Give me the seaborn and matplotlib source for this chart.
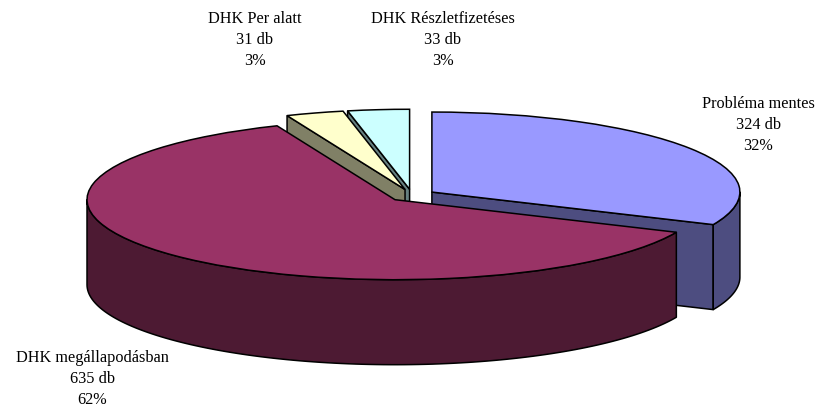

# 3D looking exploded pie, the depth walls are built from the slice angles
import numpy as np
import matplotlib
matplotlib.use('Agg')
import matplotlib.pyplot as plt
import seaborn as sns

names = ['Probléma mentes', 'DHK megállapodásban', 'DHK Per alatt', 'DHK Részletfizetéses']
counts = [324, 635, 31, 33]
slice_colors = ['#9999FF', '#993366', '#FFFFCC', '#CCFFFF']

sns.set_theme(style='white')
plt.rcParams['font.family'] = ['Liberation Serif', 'DejaVu Serif']

top_colors = sns.color_palette(slice_colors)
wall_colors = [tuple(c * 0.5 for c in col) for col in top_colors]

W, H = 816, 408
cx, cy = 412, 195.4   # pie centre in pixels
rx, ry = 308, 80      # pixels per unit
depth = 85 / ry
explode = 0.077

fig = plt.figure(figsize=(W / 100, H / 100), dpi=100, facecolor='white')
ax = fig.add_axes([0, 0, 1, 1])

edge = dict(edgecolor='black', linewidth=1.1)
wedges, _ = ax.pie(counts, colors=top_colors, explode=[explode] * len(counts),
                   startangle=90, counterclock=False, wedgeprops=edge)

# the pie sets equal aspect, squash it so it looks like a tilted disc
ax.set_aspect('auto')
ax.set_xlim(-cx / rx, (W - cx) / rx)
ax.set_ylim((cy - H) / ry, cy / ry)
ax.axis('off')

total = sum(counts)
fracs = np.array(counts) / total
ends = np.cumsum(fracs) * 360
starts = ends - fracs * 360
mids = np.radians((starts + ends) / 2)
off_x = explode * np.sin(mids)
off_y = explode * np.cos(mids)


def rim(ang, x0, y0):
    return x0 + np.sin(np.radians(ang)), y0 + np.cos(np.radians(ang))


# back slices first, the big red one goes last
order = np.argsort(-off_y)
for rank, i in enumerate(order):
    a, b = starts[i], ends[i]
    x0, y0 = off_x[i], off_y[i]
    z = 10 * (rank + 1)
    wall = wall_colors[i]

    # radial faces, only those turned towards the viewer
    for ang, visible in [(a, np.sin(np.radians(a)) < -1e-6), (b, np.sin(np.radians(b)) > 1e-6)]:
        if visible:
            rx1, ry1 = rim(ang, x0, y0)
            ax.fill([x0, rx1, rx1, x0], [y0, ry1, ry1 - depth, y0 - depth],
                    facecolor=wall, zorder=z, joinstyle='round', **edge)

    # outer curved wall, front half of the disc only
    lo, hi = max(a, 90), min(b, 270)
    if hi > lo:
        t = np.linspace(lo, hi, 120)
        px, py = rim(t, x0, y0)
        ax.fill(np.r_[px, px[::-1]], np.r_[py, py[::-1] - depth],
                facecolor=wall, zorder=z + 1, joinstyle='round', **edge)

    wedges[i].set_zorder(z + 2)

# data labels, placed by hand in pixels
label_pos = [(758, 125), (92, 379), (255, 40), (443, 40)]
for name, n, (px, py) in zip(names, counts, label_pos):
    txt = f'{name}\n{n} db\n{round(100 * n / total)}%'
    ax.text(px / W, 1 - py / H, txt, transform=ax.transAxes, ha='center', va='center',
            fontsize=11.7, color='black', linespacing=1.45, zorder=100)

fig.savefig('out.png', dpi=100)
